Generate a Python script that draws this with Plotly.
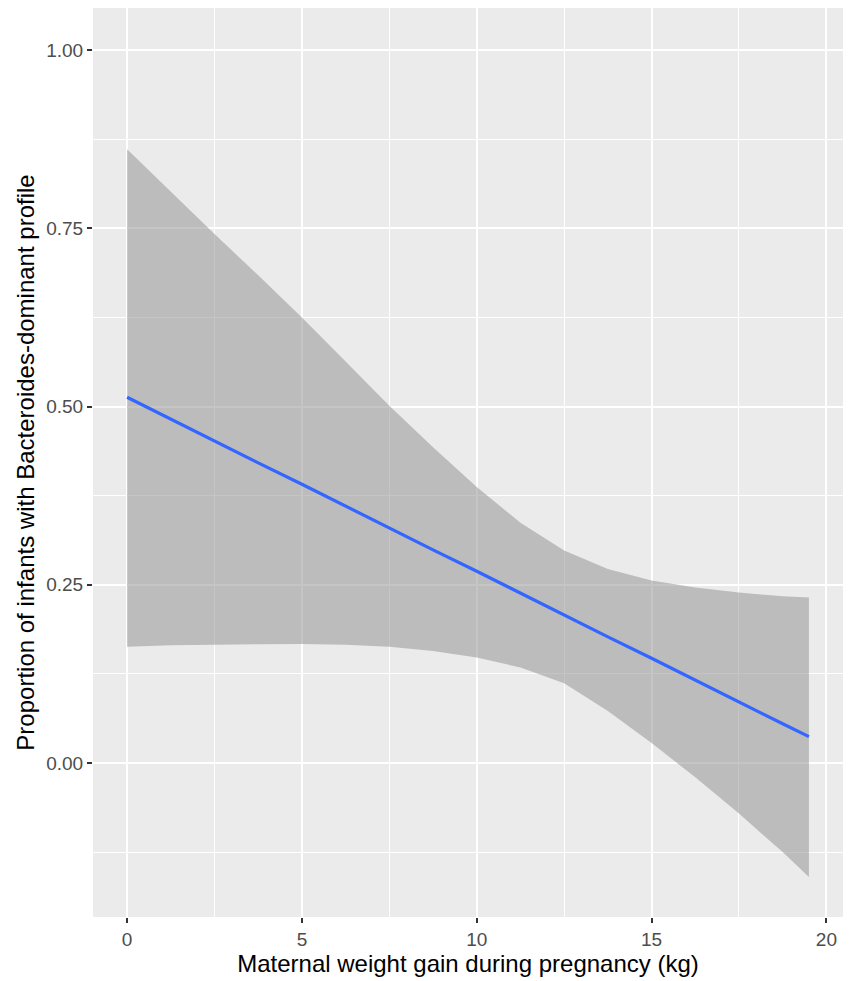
import plotly.graph_objects as go

# Data
x_fit = [0, 1.25, 2.5, 3.75, 5, 6.25, 7.5, 8.75, 10, 11.25, 12.5, 13.75, 15, 16.25, 17.5, 18.75, 19.5]
y_fit = [0.513, 0.482, 0.452, 0.421, 0.391, 0.360, 0.330, 0.299, 0.269, 0.238, 0.208, 0.177,
         0.147, 0.116, 0.086, 0.055, 0.037]
y_upper = [0.861, 0.801, 0.742, 0.684, 0.625, 0.563, 0.501, 0.443, 0.387, 0.337, 0.298, 0.272,
           0.256, 0.246, 0.239, 0.234, 0.232]
y_lower = [0.163, 0.165, 0.166, 0.167, 0.167, 0.166, 0.163, 0.157, 0.148, 0.134, 0.112, 0.073,
           0.028, -0.020, -0.071, -0.125, -0.160]

x_ticks = [0, 5, 10, 15, 20]
y_ticks = [0.0, 0.25, 0.5, 0.75, 1.0]
y_ticklabels = ["0.00", "0.25", "0.50", "0.75", "1.00"]

FONT = "Liberation Sans, Arial, Helvetica, sans-serif"

fig = go.Figure()
fig.add_trace(go.Scatter(
    x=x_fit + x_fit[::-1],
    y=y_upper + y_lower[::-1],
    fill="toself",
    fillcolor="rgba(150,150,150,0.55)",
    line=dict(width=0),
    mode="lines",
    hoverinfo="skip",
    showlegend=False,
))
fig.add_trace(go.Scatter(
    x=x_fit, y=y_fit, mode="lines",
    line=dict(color="#3366FF", width=3.2),
    showlegend=False,
))

fig.update_layout(
    width=843, height=973,
    margin=dict(l=85, r=8, t=0, b=64),
    paper_bgcolor="white",
    plot_bgcolor="#EBEBEB",
    font=dict(family=FONT, color="#4D4D4D"),
)
fig.update_xaxes(
    range=[-0.975, 20.475],
    tickvals=x_ticks,
    ticktext=[str(v) for v in x_ticks],
    showgrid=True, gridcolor="white", gridwidth=2,
    minor=dict(tick0=0, dtick=2.5, showgrid=True, gridcolor="white", gridwidth=1),
    zeroline=False, showline=False,
    ticks="outside", ticklen=5, tickwidth=1.5, tickcolor="#333333",
    tickfont=dict(size=19, color="#4D4D4D", family=FONT),
    title=dict(text="Maternal weight gain during pregnancy (kg)",
               font=dict(size=24, color="black", family=FONT), standoff=2),
)
fig.update_yaxes(
    range=[-0.216, 1.059],
    tickvals=y_ticks,
    ticktext=y_ticklabels,
    showgrid=True, gridcolor="white", gridwidth=2,
    minor=dict(tick0=0, dtick=0.125, showgrid=True, gridcolor="white", gridwidth=1),
    zeroline=False, showline=False,
    ticks="outside", ticklen=5, tickwidth=1.5, tickcolor="#333333",
    tickfont=dict(size=19, color="#4D4D4D", family=FONT),
    title=dict(text="Proportion of infants with Bacteroides-dominant profile",
               font=dict(size=24, color="black", family=FONT), standoff=4),
)

fig.write_html("out.html")
